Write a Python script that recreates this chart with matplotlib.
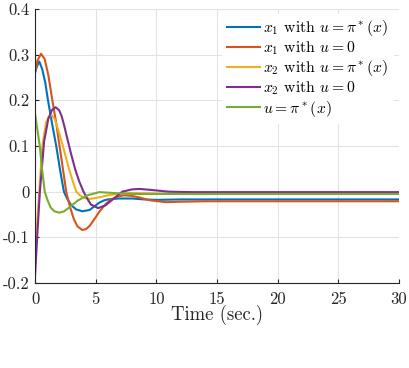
import matplotlib
matplotlib.use("Agg")
import matplotlib.pyplot as plt

# values
t_x1_pi = [0, 0.15, 0.35, 0.6, 0.85, 1.07, 1.4, 1.75, 2.05, 2.38, 2.7, 3.0, 3.4, 3.9, 4.5, 5.0, 5.3, 5.7, 6.0, 6.9, 8, 9, 10, 12, 15, 30]
x1_pi = [0.26, 0.274, 0.285, 0.268, 0.238, 0.2, 0.15, 0.1, 0.05, 0.0, -0.018, -0.03, -0.039, -0.043, -0.04, -0.03, -0.024, -0.019, -0.017, -0.015, -0.015, -0.017, -0.018, -0.017, -0.017, -0.017]

t_x1_0 = [0, 0.2, 0.5, 0.8, 1.1, 1.43, 1.75, 2.02, 2.3, 2.57, 2.9, 3.2, 3.5, 3.9, 4.2, 4.5, 4.9, 5.3, 5.8, 6.2, 6.8, 7.3, 7.9, 8.5, 9.5, 10.8, 12, 14, 30]
x1_0 = [0.26, 0.287, 0.302, 0.29, 0.255, 0.2, 0.15, 0.1, 0.05, 0.0, -0.035, -0.06, -0.076, -0.084, -0.082, -0.075, -0.06, -0.044, -0.028, -0.018, -0.011, -0.008, -0.009, -0.012, -0.019, -0.023, -0.022, -0.021, -0.021]

t_x2_pi = [0, 0.15, 0.35, 0.6, 0.9, 1.1, 1.35, 1.6, 1.8, 2.05, 2.3, 2.55, 2.8, 3.1, 3.4, 3.7, 4.0, 4.5, 5.2, 6.0, 7.0, 8.0, 10, 30]
x2_pi = [-0.16, -0.08, 0.0, 0.1, 0.15, 0.163, 0.168, 0.16, 0.145, 0.123, 0.1, 0.075, 0.05, 0.024, 0.0, -0.008, -0.013, -0.016, -0.013, -0.008, -0.004, -0.003, -0.004, -0.004]

t_x2_0 = [0, 0.2, 0.4, 0.75, 1.1, 1.4, 1.7, 2.0, 2.2, 2.45, 2.7, 3.0, 3.3, 3.65, 4.0, 4.3, 4.6, 5.2, 5.8, 6.5, 7.2, 8.0, 8.6, 9.5, 11, 13, 30]
x2_0 = [-0.186, -0.09, 0.0, 0.11, 0.16, 0.179, 0.185, 0.178, 0.165, 0.14, 0.112, 0.08, 0.05, 0.022, 0.0, -0.015, -0.028, -0.036, -0.03, -0.015, 0.0, 0.005, 0.006, 0.004, 0.0, -0.001, -0.001]

t_u = [0, 0.2, 0.39, 0.6, 0.8, 1.05, 1.3, 1.6, 2.0, 2.4, 2.8, 3.5, 4.3, 5.3, 6.5, 8, 30]
u_pi = [0.171, 0.135, 0.1, 0.045, 0.0, -0.02, -0.035, -0.043, -0.046, -0.043, -0.035, -0.02, -0.008, -0.001, -0.003, -0.005, -0.005]

series = [
    (t_x1_pi, x1_pi, '#0072BD', r'$x_1$ with $u=\pi^*(x)$'),
    (t_x1_0, x1_0, '#D95319', r'$x_1$ with $u=0$'),
    (t_x2_pi, x2_pi, '#EDB120', r'$x_2$ with $u=\pi^*(x)$'),
    (t_x2_0, x2_0, '#7E2F8E', r'$x_2$ with $u=0$'),
    (t_u, u_pi, '#77AC30', r'$u=\pi^*(x)$'),
]

xticks = [0, 5, 10, 15, 20, 25, 30]
yticks = [-0.2, -0.1, 0, 0.1, 0.2, 0.3, 0.4]
yticklabels = ['-0.2', '-0.1', '0', '0.1', '0.2', '0.3', '0.4']

plt.rcParams['font.family'] = 'serif'
plt.rcParams['font.serif'] = ['cmr10']
plt.rcParams['mathtext.fontset'] = 'cm'
plt.rcParams['axes.unicode_minus'] = False

fig = plt.figure(figsize=(4.1, 3.68), dpi=100)
ax = fig.add_axes([0.0854, 0.231, 0.8876, 0.7445])

for t, y, c, lab in series:
    ax.plot(t, y, color=c, lw=1.5, label=lab)

ax.set_xlim(0, 30)
ax.set_ylim(-0.2, 0.4)
ax.set_xticks(xticks)
ax.set_xticklabels([str(v) for v in xticks])
ax.set_yticks(yticks)
ax.set_yticklabels(yticklabels)
ax.grid(True, color='#e3e3e3', lw=0.8)
ax.set_axisbelow(True)
ax.spines['top'].set_visible(False)
ax.spines['right'].set_visible(False)
for s in ['left', 'bottom']:
    ax.spines[s].set_color('#262626')
    ax.spines[s].set_linewidth(0.8)
ax.tick_params(direction='in', length=3, width=0.8, color='#262626',
               labelsize=12, labelcolor='#262626')
ax.tick_params(axis='x', pad=6)
ax.tick_params(axis='y', pad=4)
ax.set_xlabel('Time (sec.)', fontsize=13.5, color='#262626', labelpad=-1)

leg = ax.legend(loc='upper right', bbox_to_anchor=(1.004, 1.012), fontsize=11.3,
                frameon=True, handlelength=2.1, handletextpad=0.2,
                labelspacing=0.08, borderpad=0.3, fancybox=False)
leg.get_frame().set_edgecolor('white')
leg.get_frame().set_alpha(1.0)

fig.savefig('out.png', dpi=100)
